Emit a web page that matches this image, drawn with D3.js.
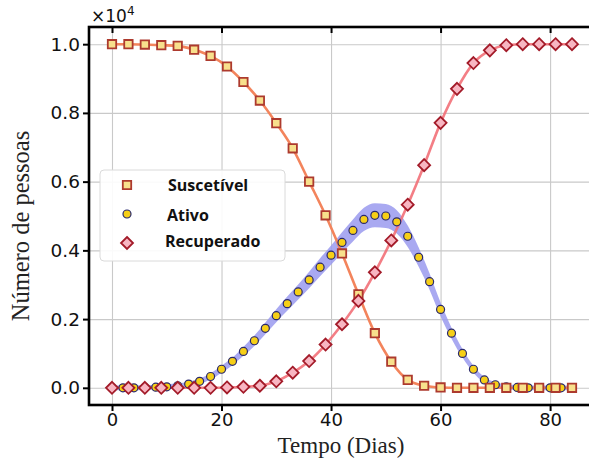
<!DOCTYPE html>
<html><head><meta charset="utf-8">
<script src="https://cdn.jsdelivr.net/npm/d3@7"></script>
<style>body{margin:0;background:#fff}svg{display:block}</style>
</head><body><svg id="c" width="589" height="463"></svg>
<script>
const daysSR = [0,3,6,9,12,15,18,21,24,27,30,33,36,39,42,45,48,51,54,57,60,63,66,69,72,75,78,81,84];
const suscetivel = [1.0,1.0,0.999,0.997,0.995,0.984,0.966,0.935,0.890,0.836,0.770,0.697,0.600,0.502,0.391,0.272,0.159,0.076,0.023,0.006,0.001,0,0,0,0,0,0,0,0];
const recuperado = [0,0,0,0,0,0,0,0.001,0.003,0.006,0.019,0.044,0.078,0.126,0.185,0.253,0.336,0.429,0.533,0.648,0.771,0.870,0.945,0.982,0.997,1.0,1.0,1.0,1.0];
const daysI = [0,2,4,6,8,10,12,14,16,18,20,22,24,26,28,30,32,34,36,38,40,42,44,46,48,50,52,54,56,58,60,62,64,66,68,70,72,74,76,78,80,82,84];
const ativo = [0,0,0,0.001,0.002,0.003,0.006,0.011,0.019,0.033,0.054,0.077,0.106,0.137,0.173,0.210,0.245,0.279,0.314,0.351,0.386,0.423,0.458,0.490,0.502,0.500,0.483,0.441,0.380,0.309,0.228,0.159,0.100,0.054,0.023,0.009,0.003,0.001,0,0,0,0,0];
const ativoLow = [-0.007,-0.007,-0.007,-0.006,-0.005,-0.004,-0.001,0.004,0.011,0.024,0.044,0.066,0.093,0.122,0.156,0.191,0.224,0.257,0.290,0.325,0.358,0.393,0.426,0.456,0.467,0.465,0.449,0.410,0.352,0.285,0.208,0.143,0.088,0.044,0.015,0.002,-0.004,-0.006,-0.007,-0.007,-0.007,-0.007,-0.007];
const ativoHigh = [0.007,0.007,0.007,0.008,0.009,0.010,0.013,0.018,0.027,0.042,0.064,0.088,0.119,0.152,0.190,0.229,0.266,0.301,0.338,0.377,0.414,0.453,0.490,0.524,0.537,0.535,0.517,0.472,0.408,0.333,0.248,0.175,0.113,0.064,0.031,0.017,0.010,0.008,0.007,0.007,0.007,0.007,0.007];
const xTicks = [0,20,40,60,80];
const yTicks = [0,0.2,0.4,0.6,0.8,1.0];
const yTickLabels = ["0.0","0.2","0.4","0.6","0.8","1.0"];
const legendLabels = ["Suscetível","Ativo","Recuperado"];

const svg = d3.select("#c");
const L = 89, R = 595, T = 27, B = 405;
const x = d3.scaleLinear([-4.2, 88.2], [L, R]);
const y = d3.scaleLinear([-0.05, 1.05], [B, T]);

svg.append("defs").append("clipPath").attr("id","clip")
  .append("rect").attr("x",L).attr("y",T).attr("width",R-L).attr("height",B-T);

// grid
const grid = svg.append("g");
grid.append("g").attr("transform",`translate(0,${B})`)
  .call(d3.axisBottom(x).tickValues(xTicks).tickSize(-(B-T)).tickFormat(""))
  .call(g=>{g.select(".domain").remove();g.selectAll("line").attr("stroke","#c9c9c9").attr("stroke-width",1.1);});
grid.append("g").attr("transform",`translate(${L},0)`)
  .call(d3.axisLeft(y).tickValues(yTicks).tickSize(-(R-L)).tickFormat(""))
  .call(g=>{g.select(".domain").remove();g.selectAll("line").attr("stroke","#c9c9c9").attr("stroke-width",1.1);});

const plot = svg.append("g").attr("clip-path","url(#clip)");
const idxI = daysI.map((d,i)=>i);
const idxSR = daysSR.map((d,i)=>i);

// band
plot.append("path").datum(idxI)
  .attr("d", d3.area().curve(d3.curveMonotoneX)
    .x(i=>x(daysI[i])).y0(i=>y(ativoLow[i])).y1(i=>y(ativoHigh[i])))
  .attr("fill","#9a9aef").attr("opacity",0.85);

// lines
plot.append("path").datum(idxSR)
  .attr("d", d3.line().curve(d3.curveMonotoneX).x(i=>x(daysSR[i])).y(i=>y(suscetivel[i])))
  .attr("fill","none").attr("stroke","#f3845c").attr("stroke-width",2.6);
plot.append("path").datum(idxSR)
  .attr("d", d3.line().curve(d3.curveMonotoneX).x(i=>x(daysSR[i])).y(i=>y(recuperado[i])))
  .attr("fill","none").attr("stroke","#f27078").attr("stroke-width",2.6).attr("opacity",0.9);

// markers
const sqPath = "M-4.2,-4.2H4.2V4.2H-4.2Z";
const diaPath = "M0,-6L6,0L0,6L-6,0Z";
plot.selectAll(".ci").data(idxI).join("circle")
  .attr("cx",i=>x(daysI[i])).attr("cy",i=>y(ativo[i])).attr("r",4)
  .attr("fill","#f6cf17").attr("stroke","#28286e").attr("stroke-width",1.2);
plot.selectAll(".sq").data(idxSR).join("path").attr("class","sq")
  .attr("d",sqPath).attr("transform",i=>`translate(${x(daysSR[i])},${y(suscetivel[i])})`)
  .attr("fill","#f8e08c").attr("stroke","#ad3a2e").attr("stroke-width",1.8);
plot.selectAll(".di").data(idxSR).join("path").attr("class","di")
  .attr("d",diaPath).attr("transform",i=>`translate(${x(daysSR[i])},${y(recuperado[i])})`)
  .attr("fill","#f8b6c2").attr("stroke","#a31b29").attr("stroke-width",1.8);

// axes ticks
const tickStyle = g=>{g.select(".domain").remove();g.selectAll("line").attr("stroke","#000").attr("stroke-width",2);};
svg.append("g").attr("transform",`translate(0,${B})`)
  .call(d3.axisBottom(x).tickValues(xTicks).tickSize(6).tickPadding(2).tickFormat(d3.format("d")))
  .call(tickStyle)
  .call(g=>g.selectAll("text").attr("font-family","DejaVu Sans").attr("font-size",18).attr("fill","#111"));
svg.append("g").attr("transform",`translate(${L},0)`)
  .call(d3.axisLeft(y).tickValues(yTicks).tickSize(6).tickPadding(3).tickFormat((d,i)=>yTickLabels[i]))
  .call(tickStyle)
  .call(g=>g.selectAll("text").attr("font-family","DejaVu Sans").attr("font-size",18.5).attr("fill","#111"));
svg.append("g").attr("transform",`translate(0,${T})`)
  .call(d3.axisTop(x).tickValues(xTicks).tickSize(-6).tickFormat(""))
  .call(tickStyle);
svg.append("g").attr("transform",`translate(${R},0)`)
  .call(d3.axisRight(y).tickValues(yTicks).tickSize(-6).tickFormat(""))
  .call(tickStyle);

// spines
svg.append("rect").attr("x",L).attr("y",T).attr("width",R-L).attr("height",B-T)
  .attr("fill","none").attr("stroke","#000").attr("stroke-width",2.6);

// multiplier
const mt = svg.append("text").attr("x",91).attr("y",22).attr("font-family","DejaVu Sans").attr("font-size",17).attr("fill","#111");
mt.append("tspan").text("×10");
mt.append("tspan").attr("font-size",12).attr("dy",-7).text("4");

// axis titles
svg.append("text").attr("x",341).attr("y",453).attr("text-anchor","middle")
  .attr("font-family","Liberation Serif").attr("font-size",23).attr("fill","#222").text("Tempo (Dias)");
svg.append("text").attr("transform","translate(29,226) rotate(-90)").attr("text-anchor","middle")
  .attr("font-family","Liberation Serif").attr("font-size",24.5).attr("fill","#222").text("Número de pessoas");

// legend
const lg = svg.append("g");
lg.append("rect").attr("x",100).attr("y",170).attr("width",185).attr("height",91).attr("rx",4)
  .attr("fill","#fff").attr("fill-opacity",0.9).attr("stroke","#dadada").attr("stroke-width",1);
lg.append("path").attr("d",sqPath).attr("transform","translate(127,185)")
  .attr("fill","#f8e08c").attr("stroke","#ad3a2e").attr("stroke-width",1.8);
lg.append("circle").attr("cx",127).attr("cy",214).attr("r",4)
  .attr("fill","#f6cf17").attr("stroke","#28286e").attr("stroke-width",1.2);
lg.append("path").attr("d",diaPath).attr("transform","translate(127,243)")
  .attr("fill","#f8b6c2").attr("stroke","#a31b29").attr("stroke-width",1.8);
const lx = [168,167,165], ly = [191,221,247];
legendLabels.forEach((t,i)=>{
  lg.append("text").attr("x",lx[i]).attr("y",ly[i]).attr("font-family","Open Sans").attr("font-weight",700)
    .attr("font-size",16).attr("fill","#111").text(t);
});
</script>
</body></html>
